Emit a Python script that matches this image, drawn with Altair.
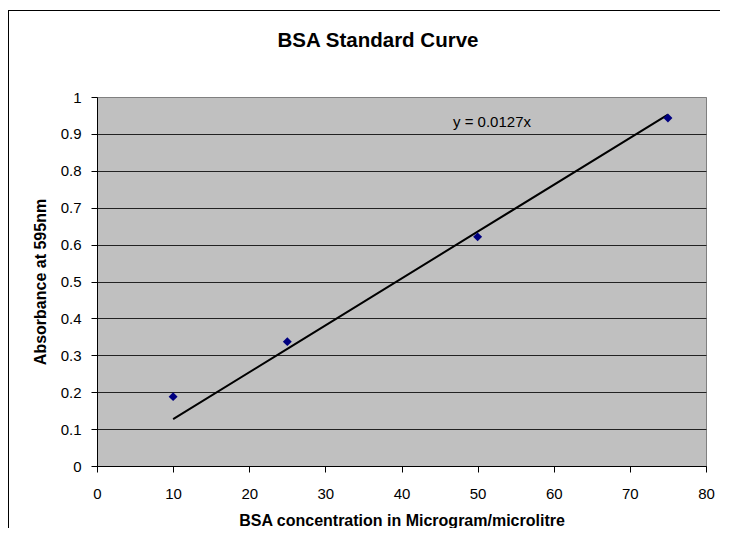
import altair as alt
import pandas as pd

# ---- data ----
conc = [10, 25, 50, 75]                 # BSA concentration (microgram/microlitre)
absorb = [0.188, 0.337, 0.621, 0.943]   # absorbance at 595 nm
trend_slope = [0.0127]                  # trendline y = 0.0127x (through origin)
x_ticks = [0, 10, 20, 30, 40, 50, 60, 70, 80]
y_ticks = [0, 0.1, 0.2, 0.3, 0.4, 0.5, 0.6, 0.7, 0.8, 0.9, 1]
chart_title = ["BSA Standard Curve"]
eq_label = ["y = 0.0127x"]
x_title = "BSA concentration in Microgram/microlitre"
y_title = "Absorbance at 595nm"

df = pd.DataFrame({"conc": conc, "abs": absorb})
one = pd.DataFrame({"t": chart_title})
eq = pd.DataFrame({"t": eq_label})

FONT = "Liberation Sans"
W, H = 609, 369
PAD = {"left": 89, "top": 89, "right": 14, "bottom": 62}

xs = alt.Scale(domain=[x_ticks[0], x_ticks[-1]], nice=False)
ys = alt.Scale(domain=[y_ticks[0], y_ticks[-1]], nice=False)

x_axis = alt.Axis(
    values=x_ticks, title=x_title, grid=False,
    domainColor="black", tickColor="black", tickSize=6,
    labelPadding=14, labelFontSize=15, labelFont=FONT, labelColor="black",
    labelFlush=False, labelOverlap=False,
    titleFont=FONT, titleFontSize=16, titleFontWeight="bold", titleColor="black",
    titleX=W / 2, titleY=59, titleBaseline="alphabetic", titleAlign="center",
)
y_axis = alt.Axis(
    values=y_ticks, title=y_title, format="~g",
    grid=True, gridColor={"condition": {"test": "datum.value >= 0.99", "value": "#808080"}, "value": "#222222"},
    gridWidth=1,
    domainColor="black", tickColor="black", tickSize=6,
    labelPadding=10, labelFontSize=15, labelFont=FONT, labelColor="black",
    labelOverlap=False, labelFlush=False,
    titleFont=FONT, titleFontSize=16, titleFontWeight="bold", titleColor="black",
    titleX=-52, titleY=H / 2, titleAngle=270, titleBaseline="alphabetic", titleAlign="center",
)

base = alt.Chart(df)

points = base.mark_point(shape="diamond", filled=True, color="#000080", size=80, opacity=1).encode(
    x=alt.X("conc:Q", scale=xs, axis=x_axis),
    y=alt.Y("abs:Q", scale=ys, axis=y_axis),
)

trend = base.transform_calculate(trend=f"{trend_slope[0]} * datum.conc").mark_line(
    color="black", strokeWidth=2
).encode(
    x=alt.X("conc:Q", scale=xs, axis=x_axis),
    y=alt.Y("trend:Q", scale=ys, axis=y_axis),
)

eq_text = alt.Chart(eq).mark_text(
    font=FONT, fontSize=15, color="black", align="center", baseline="alphabetic"
).encode(text="t:N", x=alt.value(395), y=alt.value(30))

title_text = alt.Chart(one).mark_text(
    font=FONT, fontSize=20.5, fontWeight="bold", color="black", align="center", baseline="alphabetic"
).encode(text="t:N", x=alt.value(281), y=alt.value(-50))

# outer chart border: only its top and left edges fall inside the picture
right_edge = W + PAD["right"]
bottom_edge = H + PAD["bottom"]
border_top = alt.Chart(one).mark_rect(color="black").encode(
    x=alt.value(-89), x2=alt.value(right_edge), y=alt.value(-87), y2=alt.value(-86)
)
border_left = alt.Chart(one).mark_rect(color="black").encode(
    x=alt.value(-89), x2=alt.value(-88), y=alt.value(-87), y2=alt.value(bottom_edge)
)

chart = alt.layer(trend, points, eq_text, title_text, border_top, border_left).properties(
    width=W, height=H,
    autosize=alt.AutoSizeParams(type="none"),
    padding=PAD,
    background="white",
).configure_view(
    fill="#C0C0C0", stroke="#808080", strokeWidth=1
)

chart.save("out.html", embed_options={"renderer": "svg", "actions": False})
